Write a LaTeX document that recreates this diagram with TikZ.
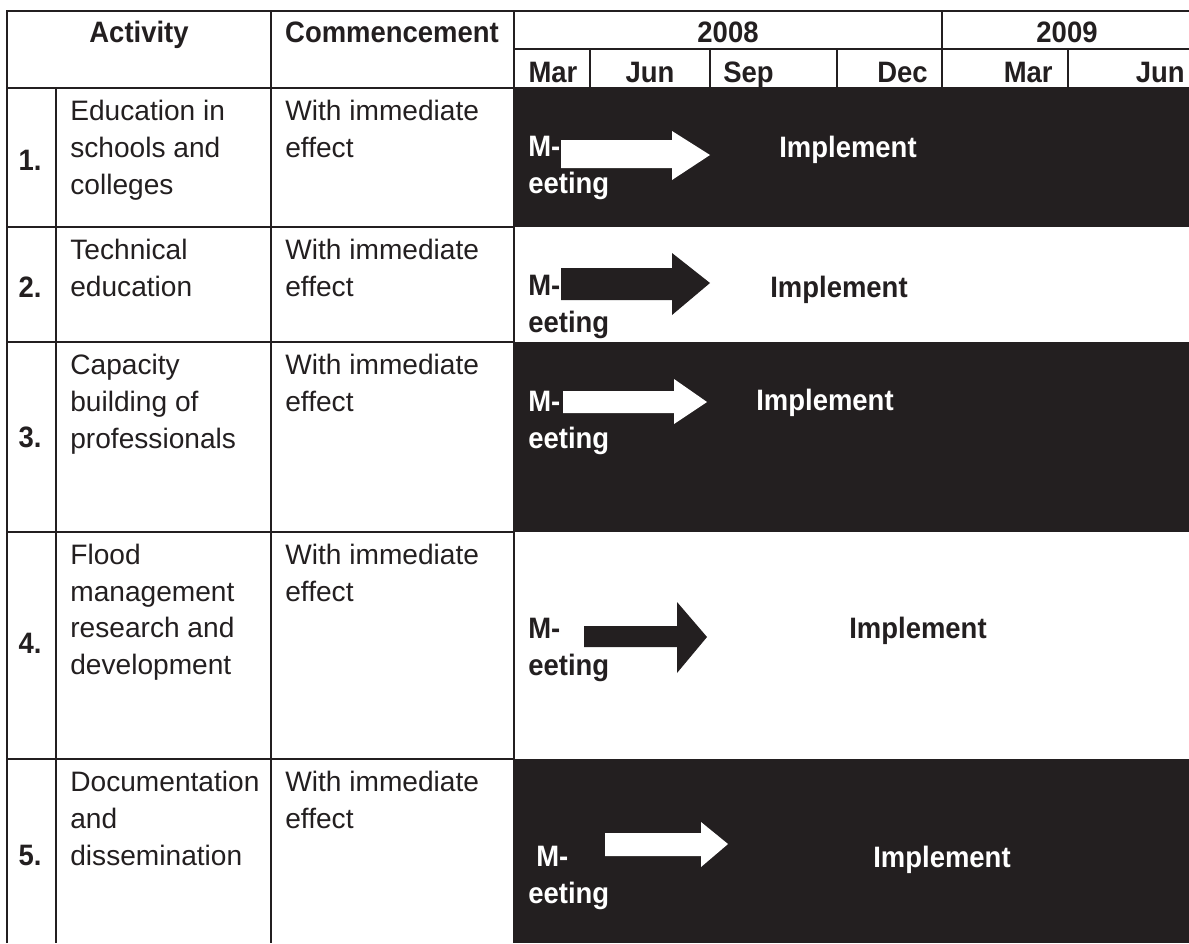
\documentclass[tikz,border=0pt]{standalone}
\usepackage{fontspec}
\setmainfont{Liberation Sans}
\newfontfamily\headfont{Liberation Sans Bold}[FakeStretch=0.93]
\definecolor{ink}{HTML}{231F20}
\tikzset{
  tabrule/.style={ink, line width=1.6pt},
  thinrule/.style={ink, line width=1.1pt},
  head/.style={font=\headfont\fontsize{16.8}{20.8}\selectfont, inner sep=0pt, text=ink},
  body/.style={font=\fontsize{16}{20.8}\selectfont, inner sep=0pt, text=ink, align=left, anchor=base west},
  meet/.style={head, align=left, anchor=base west},
}

\begin{document}
\begin{tikzpicture}[x=0.02cm, y=-0.02cm]
\useasboundingbox (0,0) rectangle (1189,943);

\draw[tabrule] (7,943) -- (7,11) -- (1189,11);
\draw[tabrule] (7,88) -- (1189,88);
\draw[tabrule] (514,49) -- (1189,49);
\foreach \y in {227,342,532,759}
    \draw[tabrule] (7,\y) -- (514,\y);
\draw[tabrule] (56,88) -- (56,943);
\draw[tabrule] (271,11) -- (271,943);
\draw[tabrule] (514,11) -- (514,943);
\draw[tabrule] (942,11) -- (942,88);
\foreach \x in {590,710,837,1068}
    \draw[thinrule] (\x,49) -- (\x,88);

\fill[ink] (514,88) rectangle (1189,227);
\fill[ink] (514,342) rectangle (1189,532);
\fill[ink] (514,759) rectangle (1189,943);

\node[head, anchor=base] (act) at (139,42) {Activity};
\node[head, anchor=base] (comm) at (392,42) {Commencement};
\node[head, anchor=base] (y8) at (728,42) {2008};
\node[head, anchor=base] (y9) at (1067,42) {2009};
\node[head, anchor=base] (m1) at (553,82) {Mar};
\node[head, anchor=base] (m2) at (650,82) {Jun};
\node[head, anchor=base west] (m3) at (723,82) {Sep};
\node[head, anchor=base east] (m4) at (928,82) {Dec};
\node[head, anchor=base east] (m5) at (1053,82) {Mar};
\node[head, anchor=base east] (m6) at (1185,82) {Jun};

\node[head, anchor=base] (n1) at (30,170) {1.};
\node[head, anchor=base] (n2) at (30,297) {2.};
\node[head, anchor=base] (n3) at (30,447) {3.};
\node[head, anchor=base] (n4) at (30,653) {4.};
\node[head, anchor=base] (n5) at (30,865) {5.};

\node[body] (a1) at (70,194) {Education in\\schools and\\colleges};
\node[body] (a2) at (70,296.5) {Technical\\education};
\node[body] (a3) at (70,448) {Capacity\\building of\\professionals};
\node[body] (a4) at (70,674.5) {Flood\\management\\research and\\development};
\node[body] (a5) at (70,865) {Documentation\\and\\dissemination};

\node[body] (c1) at (285,157.5) {With immediate\\effect};
\node[body] (c2) at (285,296.5) {With immediate\\effect};
\node[body] (c3) at (285,411.5) {With immediate\\effect};
\node[body] (c4) at (285,601.5) {With immediate\\effect};
\node[body] (c5) at (285,828.5) {With immediate\\effect};

\fill[white] (561,140) -- (672,140) -- (672,131) -- (710,155) -- (672,180) -- (672,168) -- (561,168) -- cycle;
\fill[ink] (561,268) -- (672,268) -- (672,253) -- (710,283) -- (672,315) -- (672,300) -- (561,300) -- cycle;
\fill[white] (563,391) -- (674,391) -- (674,379) -- (707,402) -- (674,424) -- (674,413) -- (563,413) -- cycle;
\fill[ink] (584,626) -- (677,626) -- (677,602) -- (707,637) -- (677,673) -- (677,647) -- (584,647) -- cycle;
\fill[white] (605,833) -- (701,833) -- (701,822) -- (728,844) -- (701,867) -- (701,856) -- (605,856) -- cycle;

\node[meet, text=white] (mt1) at (528,193) {M-\\eeting};
\node[meet] (mt2) at (528,332) {M-\\eeting};
\node[meet, text=white] (mt3) at (528,448) {M-\\eeting};
\node[meet] (mt4) at (528,675) {M-\\eeting};
\node[meet, text=white] (mt5) at (528,903) {\hspace*{4.5pt}M-\\eeting};

\node[head, anchor=base west, text=white] (im1) at (779,157) {Implement};
\node[head, anchor=base west] (im2) at (770,297) {Implement};
\node[head, anchor=base west, text=white] (im3) at (756,410) {Implement};
\node[head, anchor=base west] (im4) at (849,638) {Implement};
\node[head, anchor=base west, text=white] (im5) at (873,867) {Implement};
\end{tikzpicture}
\end{document}
